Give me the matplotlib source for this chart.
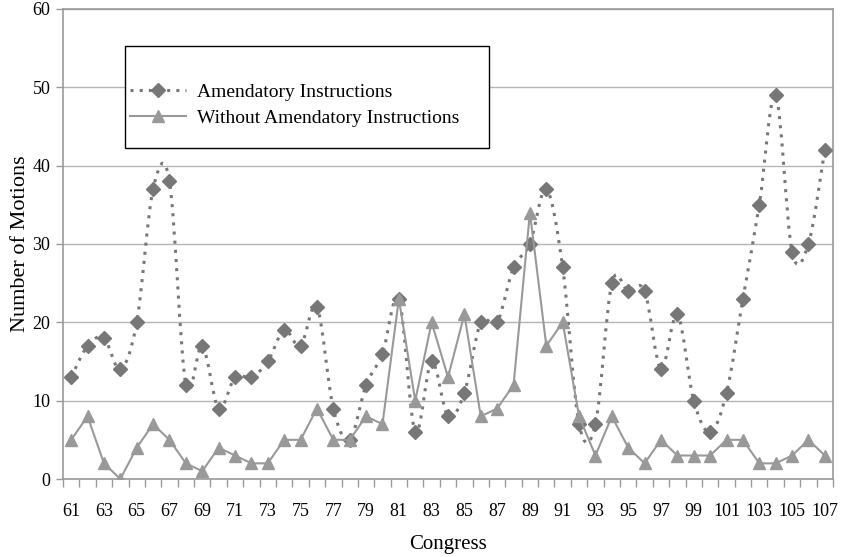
import matplotlib.pyplot as plt
import numpy as np
from matplotlib.path import Path
from matplotlib.patches import PathPatch, Rectangle
from matplotlib.lines import Line2D

plt.rcParams['font.family'] = ['Liberation Serif', 'DejaVu Serif']

congress = list(range(61, 108))
amendatory = [13, 17, 18, 14, 20, 37, 38, 12, 17, 9, 13, 13, 15, 19, 17, 22,
              9, 5, 12, 16, 23, 6, 15, 8, 11, 20, 20, 27, 30, 37, 27, 7,
              7, 25, 24, 24, 14, 21, 10, 6, 11, 23, 35, 49, 29, 30, 42]
without = [5, 8, 2, 0, 4, 7, 5, 2, 1, 4, 3, 2, 2, 5, 5, 9,
           5, 5, 8, 7, 23, 10, 20, 13, 21, 8, 9, 12, 34, 17, 20, 8,
           3, 8, 4, 2, 5, 3, 3, 3, 5, 5, 2, 2, 3, 5, 3]

dark = "#777777"
light = "#999999"


def smooth_path(xs, ys):
    # Excel-style smoothed line: cubic Bezier through every point
    pts = np.column_stack([xs, ys]).astype(float)
    verts = [pts[0]]
    codes = [Path.MOVETO]
    n = len(pts)
    for i in range(n - 1):
        p0 = pts[max(i - 1, 0)]
        p1 = pts[i]
        p2 = pts[i + 1]
        p3 = pts[min(i + 2, n - 1)]
        c1 = p1 + (p2 - p0) / 6
        c2 = p2 - (p3 - p1) / 6
        verts += [c1, c2, p2]
        codes += [Path.CURVE4] * 3
    return Path(verts, codes)


fig = plt.figure(figsize=(8.41, 5.57), dpi=100)
ax = fig.add_axes([0.0749, 0.140, 0.9156, 0.844])

ax.add_patch(PathPatch(smooth_path(congress, amendatory), fill=False,
                       edgecolor=dark, lw=2.2, linestyle=(0, (1, 2)), zorder=3))
ax.plot(congress, amendatory, linestyle="none", marker="D", ms=7,
        color=dark, zorder=4)
ax.plot(congress, without, color=light, lw=1.5, marker="^", ms=9,
        markerfacecolor=light, markeredgecolor=light, zorder=5)

ax.set_xlim(60.5, 107.5)
ax.set_ylim(0, 60)
ax.set_yticks(range(0, 61, 10))
ax.set_xticks(congress[::2])
ax.set_xticks(np.arange(60.5, 108, 1), minor=True)
ax.tick_params(axis="x", which="major", length=0, pad=17, labelsize=13)
ax.tick_params(axis="x", which="minor", length=6, color="#999999", width=1)
ax.tick_params(axis="y", length=5, color="#999999", width=1, labelsize=13, pad=4)

ax.yaxis.grid(True, color="#b5b5b5", lw=1)
ax.set_axisbelow(True)
for s in ax.spines.values():
    s.set_color("#999999")
    s.set_linewidth(1.2)

ax.set_xlabel("Congress", fontsize=15, labelpad=11)
ax.set_ylabel("Number of Motions", fontsize=16, labelpad=2)

# legend frame drawn separately (the original has uneven padding)
ax.add_patch(Rectangle((0.0805, 0.7043), 0.4727, 0.217, transform=ax.transAxes,
                       facecolor="white", edgecolor="black", lw=1, zorder=6))
handles = [
    Line2D([], [], color=dark, lw=2.2, linestyle=(0, (1, 2)), marker="D", ms=7),
    Line2D([], [], color=light, lw=1.5, marker="^", ms=9),
]
leg = ax.legend(handles, ["Amendatory Instructions", "Without Amendatory Instructions"],
                loc="upper left", bbox_to_anchor=(0.087, 0.842), fontsize=14,
                frameon=False, borderpad=0, handlelength=2.9, handletextpad=0.55,
                labelspacing=0.45, borderaxespad=0)
leg.set_zorder(7)

plt.savefig("out.png", dpi=100)
